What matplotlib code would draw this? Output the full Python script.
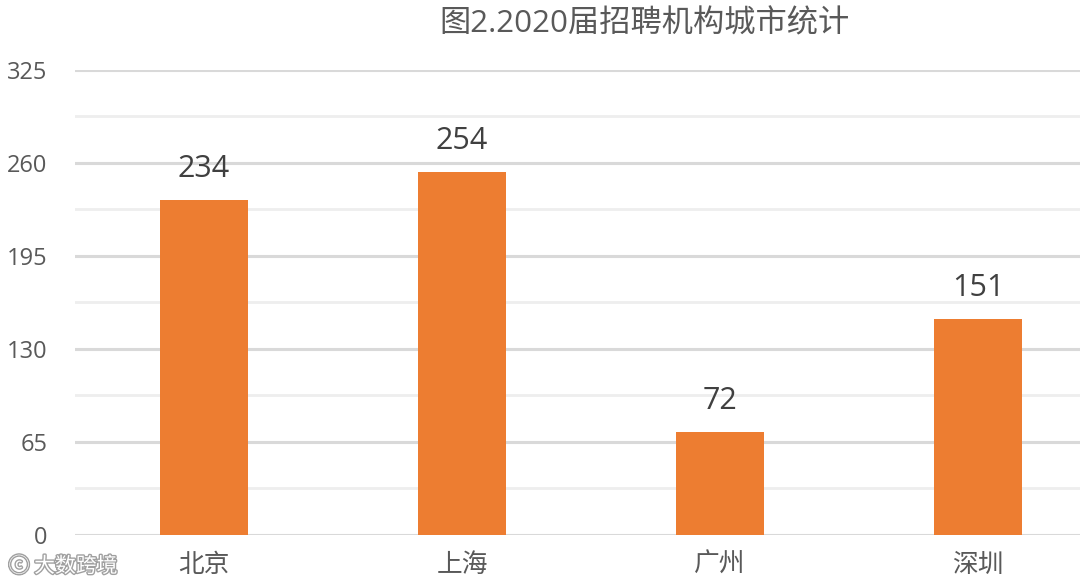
import matplotlib
matplotlib.use("Agg")
import matplotlib.pyplot as plt
import matplotlib.patheffects as pe
from matplotlib.ticker import MultipleLocator

plt.rcParams['font.family'] = ['Open Sans', 'Noto Sans CJK SC', 'DejaVu Sans']

# data
cities = ["北京", "上海", "广州", "深圳"]
counts = [234, 254, 72, 151]
title = "图2.2020届招聘机构城市统计"

bar_color = "#ED7D31"
text_gray = "#595959"

fig = plt.figure(figsize=(10.8, 5.85), dpi=100)
ax = fig.add_axes([0.0694, 0.0855, 0.9306, 0.7949])

x = range(len(cities))
ax.bar(x, counts, width=0.34, color=bar_color, zorder=3)

for xi, v in zip(x, counts):
    ax.text(xi, v + 11, str(v), ha="center", va="bottom",
            fontsize=22, color="#404040")

ax.set_ylim(0, 325)
ax.set_xlim(-0.5, 3.395)
ax.yaxis.set_major_locator(MultipleLocator(65))
ax.yaxis.set_minor_locator(MultipleLocator(32.5))
ax.grid(axis="y", which="major", color="#D9D9D9", linewidth=2.2, zorder=0)
ax.grid(axis="y", which="minor", color="#EEEEEE", linewidth=2.0, zorder=0)
ax.set_axisbelow(True)

for s in ax.spines.values():
    s.set_visible(False)

ax.set_xticks(list(x))
ax.set_xticklabels(cities, fontsize=18.5, color=text_gray,
                   family=['Noto Sans CJK SC', 'DejaVu Sans'])
ax.tick_params(axis="x", length=0, pad=12)
ax.tick_params(axis="y", which="both", length=0, pad=20, labelsize=17,
               labelcolor=text_gray)

fig.text(0.597, 0.958, title, ha="center", va="center", fontsize=22.5,
         color=text_gray)

# watermark
fig.text(0.008, 0.032, "\u24d2 大数跨境", ha="left", va="center", fontsize=15,
         color="white", family=['Noto Sans CJK SC', 'DejaVu Sans'],
         path_effects=[pe.withStroke(linewidth=2, foreground="#A0A0A0")])

fig.savefig("out.png", dpi=100)
